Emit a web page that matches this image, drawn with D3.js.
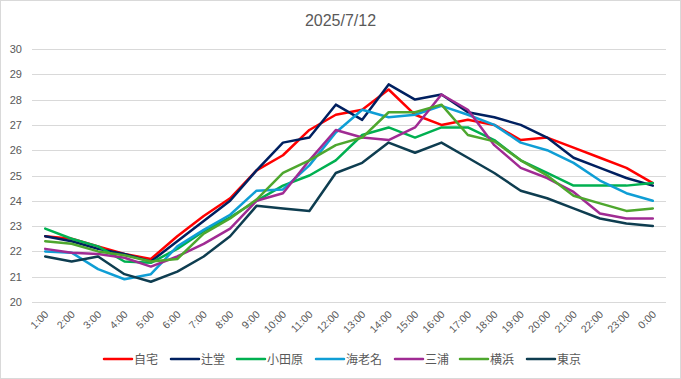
<!DOCTYPE html>
<html>
<head>
<meta charset="utf-8">
<script src="https://cdn.jsdelivr.net/npm/d3@7"></script>
<style>
  body { margin: 0; background: #fff; }
  svg text { font-family: "Liberation Sans", "Noto Sans CJK JP", sans-serif; fill: #595959; }
</style>
</head>
<body>
<svg id="chart" width="681" height="379"></svg>
<script>
// hours on the x axis
var hours = ['1:00','2:00','3:00','4:00','5:00','6:00','7:00','8:00','9:00','10:00','11:00','12:00',
             '13:00','14:00','15:00','16:00','17:00','18:00','19:00','20:00','21:00','22:00','23:00','0:00'];
var yTicks = [20,21,22,23,24,25,26,27,28,29,30];

// temperatures
var jitaku    = [22.6,22.5,22.2,21.9,21.7,22.6,23.4,24.1,25.2,25.8,26.8,27.4,27.6,28.4,27.4,27.0,27.2,27.0,26.4,26.5,26.1,25.7,25.3,24.7];
var tsujido   = [22.6,22.4,22.1,21.9,21.6,22.4,23.2,24.0,25.2,26.3,26.5,27.8,27.2,28.6,28.0,28.2,27.5,27.3,27.0,26.5,25.7,25.3,24.9,24.6];
var odawara   = [22.9,22.5,22.2,21.6,21.55,22.1,22.8,23.35,24.0,24.6,25.0,25.6,26.6,26.9,26.5,26.9,26.9,26.4,25.6,25.1,24.6,24.6,24.6,24.7];
var ebina     = [22.0,21.95,21.3,20.9,21.1,22.2,22.85,23.45,24.4,24.45,25.4,26.7,27.6,27.3,27.4,27.75,27.4,27.0,26.3,26.0,25.5,24.8,24.3,24.0];
var miura     = [22.1,21.95,21.9,21.75,21.4,21.8,22.3,22.9,24.0,24.3,25.6,26.8,26.5,26.4,26.9,28.2,27.6,26.2,25.3,24.9,24.35,23.5,23.3,23.3];
var yokohama  = [22.4,22.3,22.0,21.85,21.6,21.7,22.7,23.3,24.05,25.1,25.6,26.2,26.5,27.5,27.5,27.8,26.6,26.35,25.6,25.0,24.2,23.9,23.6,23.7];
var tokyo     = [21.8,21.6,21.8,21.1,20.8,21.2,21.8,22.6,23.8,23.7,23.6,25.1,25.5,26.3,25.9,26.3,25.7,25.1,24.4,24.1,23.7,23.3,23.1,23.0];

var names  = ['自宅','辻堂','小田原','海老名','三浦','横浜','東京'];
var colors = ['#ff0000','#002060','#00b050','#0f9ed5','#a02b93','#4ea72e','#0e3d50'];
var values = [jitaku, tsujido, odawara, ebina, miura, yokohama, tokyo];

var svg = d3.select('#chart');
var W = 681, H = 379;
var margin = {left: 32, right: 15, top: 49, bottom: 77};

// outer border
svg.append('rect').attr('x', 0.5).attr('y', 0.5).attr('width', W - 1).attr('height', H - 1)
  .attr('fill', '#fff').attr('stroke', '#d9d9d9');

svg.append('text').attr('x', W / 2).attr('y', 26).attr('text-anchor', 'middle')
  .attr('font-size', 16).text('2025/7/12');

var x = d3.scaleBand().domain(hours).range([margin.left, W - margin.right]);
var y = d3.scaleLinear().domain([20, 30]).range([H - margin.bottom, margin.top]);

// grid
svg.append('g').selectAll('line').data(yTicks).enter().append('line')
  .attr('x1', margin.left).attr('x2', W - margin.right)
  .attr('y1', function(d) { return Math.round(y(d)) + 0.5; })
  .attr('y2', function(d) { return Math.round(y(d)) + 0.5; })
  .attr('stroke', '#d9d9d9').attr('stroke-width', 1);

// y labels
svg.append('g').selectAll('text').data(yTicks).enter().append('text')
  .attr('x', 22).attr('y', function(d) { return y(d) + 4; })
  .attr('text-anchor', 'end').attr('font-size', 11).text(function(d) { return d; });

// x labels, rotated
svg.append('g').selectAll('text').data(hours).enter().append('text')
  .attr('transform', function(d) { return 'translate(' + (x(d) + x.bandwidth() / 2 + 4) + ',' + (y(20) + 13) + ') rotate(-45)'; })
  .attr('text-anchor', 'end').attr('font-size', 10.5).text(function(d) { return d; });

var line = d3.line()
  .x(function(d, i) { return x(hours[i]) + x.bandwidth() / 2; })
  .y(function(d) { return y(d); });

values.forEach(function(v, k) {
  svg.append('path').datum(v).attr('d', line)
    .attr('fill', 'none').attr('stroke', colors[k]).attr('stroke-width', 2.5)
    .attr('stroke-linejoin', 'round').attr('stroke-linecap', 'round');
});

// legend
var legX = [104, 171, 237, 316, 395, 460, 527];
var legY = 359;
var leg = svg.append('g');
names.forEach(function(n, k) {
  leg.append('line').attr('x1', legX[k]).attr('x2', legX[k] + 28).attr('y1', legY).attr('y2', legY)
    .attr('stroke', colors[k]).attr('stroke-width', 2.5).attr('stroke-linecap', 'round');
  leg.append('text').attr('x', legX[k] + 30).attr('y', legY + 4.5).attr('font-size', 12).text(n);
});
</script>
</body>
</html>
